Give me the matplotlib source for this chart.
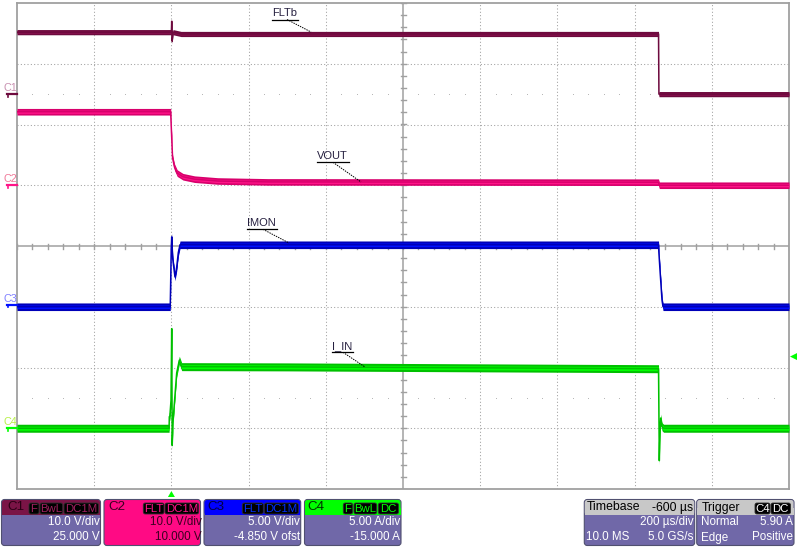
import numpy as np
import matplotlib.pyplot as plt
from matplotlib.patches import FancyBboxPatch, Rectangle, Polygon

plt.rcParams['font.family'] = ['Liberation Sans', 'DejaVu Sans']

W, H = 800, 547

# channel settings: volts (or amps) per div and offset
ch_names = ['C1', 'C2', 'C3', 'C4']
ch_scale = [10.0, 10.0, 5.0, 5.0]
ch_offset = [25.0, 10.0, -4.85, -15.0]

# time axis (us), 200 us/div, trigger at t = 0
t_min, t_max = -400, 1600

# C1 FLTb (V)
flt_t = [-400, 0, 0.8, 2, 4, 25, 1262, 1263, 1600]
flt_v = [10.2, 10.2, 12.0, 8.7, 10.2, 9.9, 9.9, 0.0, 0.0]

# C2 VOUT (V)
vout_t = [-400, -2, 3, 8, 15, 30, 60, 120, 250, 1262, 1264, 1600]
vout_v = [12.1, 12.1, 4.5, 3.0, 2.0, 1.4, 1.0, 0.7, 0.55, 0.5, 0.0, 0.0]

# C3 IMON (V)
imon_t = [-400, -3, -2, -0.5, 0.8, 3.4, 9.3, 13.7, 17.9, 22.3, 1262, 1263, 1265.8, 1268.4, 1271, 1273.6, 1600]
imon_v = [-0.15, -0.15, 1.6, 4.5, 5.6, 3.8, 2.3, 3.1, 4.3, 4.95, 4.95, 4.27, 2.87, 1.64, 0.4, -0.15, -0.15]

# C4 I_IN (A)
iin_t = [-400, -6, -5.4, -4, -1, 0.8, 2.1, 4, 7.5, 13.7, 20.5, 26.7, 300, 1262, 1264, 1265, 1267.6, 1271, 1275, 1600]
iin_v = [0.0, 0.0, 0.95, 1.0, 2.3, 8.2, -1.4, 0.5, 2.0, 4.55, 5.6, 5.07, 5.05, 4.9, -2.67, -1.2, 0.84, 0.13, 0.0, 0.0]

trig_level = 5.90  # A on C4

# colours: outer, inner, marker label
cols = {
    'C1': ('#6e0a3e', '#86104c', '#c890b0'),
    'C2': ('#d8006c', '#ff1488', '#f07898'),
    'C3': ('#0000b8', '#0010ff', '#8080ff'),
    'C4': ('#00c000', '#00ff00', '#b8f048'),
}
band_px = {'C1': (2.6, 1.2), 'C2': (3.3, 1.6), 'C3': (3.8, 1.8), 'C4': (4.0, 2.0)}

div_px = 60.75


def to_div(v, i):
    return (np.asarray(v) + ch_offset[i]) / ch_scale[i]


fig = plt.figure(figsize=(8, 5.47), dpi=100)
fig.patch.set_facecolor('white')
ax = fig.add_axes([17 / W, 1 - 489 / H, 772 / W, 486 / H])
ax.set_xlim(t_min, t_max)
ax.set_ylim(-4, 4)
ax.set_xticks([])
ax.set_yticks([])
for s in ax.spines.values():
    s.set_color('#a0a0a0')
    s.set_linewidth(1.3)

grid_c = '#a0a0a0'
for k in range(1, 10):
    t = t_min + 200 * k
    if t == 600:
        ax.axvline(t, color=grid_c, lw=1.1, zorder=1)
    else:
        ax.axvline(t, color=grid_c, lw=0.75, dashes=(1, 2.2), zorder=1)
for y in range(-3, 4):
    if y == 0:
        ax.axhline(0, color=grid_c, lw=1.1, zorder=1)
    else:
        ax.axhline(y, color=grid_c, lw=0.75, dashes=(1, 2.2), zorder=1)

# minor ticks on centre lines
tx = 2.5 / 77.2 * 200
ty = 2.5 / div_px
for t in np.arange(t_min, t_max + 1, 40):
    ax.plot([t, t], [-ty, ty], color=grid_c, lw=1.0, zorder=1)
for y in np.arange(-4, 4.01, 0.2):
    ax.plot([600 - tx, 600 + tx], [y, y], color=grid_c, lw=1.0, zorder=1)

# sparse dot rows
dot_t = [t for t in np.arange(t_min + 40, t_max, 40) if (t - t_min) % 200 != 0]
for y in (2.5, -2.5):
    ax.plot(dot_t, [y] * len(dot_t), ls='none', marker='s', ms=0.6, mew=0, color='#b0b0b0', zorder=1)

traces = [(flt_t, flt_v), (vout_t, vout_v), (imon_t, imon_v), (iin_t, iin_v)]
for i, (tt, vv) in enumerate(traces):
    name = ch_names[i]
    yd = to_div(vv, i)
    ho, hi = band_px[name]
    outer, inner, _ = cols[name]
    ax.fill_between(tt, yd - ho / div_px, yd + ho / div_px, color=outer, lw=0, zorder=3)
    ax.fill_between(tt, yd - hi / div_px, yd + hi / div_px, color=inner, lw=0, zorder=4)
    ax.plot(tt, yd, color=outer, lw=1.1, zorder=5)

# overlay in pixel coordinates
ov = fig.add_axes([0, 0, 1, 1])
ov.set_xlim(0, W)
ov.set_ylim(H, 0)
ov.axis('off')
ov.patch.set_alpha(0)

# trace labels with leader lines
labels = [
    ('FLTb', 272, 13, 298, 19.5, (287, 19.5), (311, 32)),
    ('VOUT', 317, 156, 349, 162.3, (333, 162.3), (361, 182)),
    ('IMON', 247, 223, 277, 229.3, (263, 229.3), (289, 243)),
    ('I_IN', 332, 346, 353, 352.3, (343, 352.3), (365, 367)),
]
for txt, x0, yc, x1, yu, p0, p1 in labels:
    ov.text(x0, yc, txt, fontsize=8, color='#262040', ha='left', va='center')
    ov.plot([x0, x1], [yu, yu], color='black', lw=0.9)
    ov.plot([p0[0], p1[0]], [p0[1], p1[1]], color='black', lw=0.7, dashes=(1.5, 1))

# channel ground markers on the left
marker_y = [246 - to_div(0, i) * div_px for i in range(4)]
for i, name in enumerate(ch_names):
    y = marker_y[i]
    outer, inner, lab = cols[name]
    mc = inner if name != 'C1' else outer
    ov.plot([7, 17], [y, y], color=mc, lw=1.6)
    ov.plot([7.5, 7.5], [y, y + 2.5], color=mc, lw=1.2)
    ov.text(3, y - 6, name, fontsize=7.8, color=lab, ha='left', va='center')

# trigger markers
ty_px = 246 - to_div(trig_level, 3) * div_px
ov.add_patch(Polygon([[790, ty_px], [797, ty_px - 3.5], [797, ty_px + 3.5]], closed=True, color='#00ff00', lw=0))
tx_px = 17 + (0 - t_min) / 200 * 77.2
ov.add_patch(Polygon([[tx_px - 3.5, 497], [tx_px + 3.5, 497], [tx_px, 491]], closed=True, color='#00ff00', lw=0))

# info panels
body_c = '#7068a8'
edge_c = '#505070'
fs_body = 8.4
fs_head = 9.6


def panel(x0, x1, head_c):
    ov.add_patch(FancyBboxPatch((x0, 499.5), x1 - x0, 46, boxstyle='round,pad=0,rounding_size=3',
                                fc=body_c, ec=edge_c, lw=0.8))
    ov.add_patch(FancyBboxPatch((x0 + 0.5, 500), x1 - x0 - 1, 15, boxstyle='round,pad=0,rounding_size=2.5',
                                fc=head_c, ec='none'))
    ov.add_patch(Rectangle((x0 + 0.5, 508), x1 - x0 - 1, 7, fc=head_c, ec='none'))


def badge(x0, x1, txt, tc):
    ov.add_patch(FancyBboxPatch((x0, 503), x1 - x0, 11, boxstyle='round,pad=0,rounding_size=2',
                                fc='black', ec='#303030', lw=0.6))
    ov.text((x0 + x1) / 2, 508.7, txt, fontsize=8.2, color=tc, ha='center', va='center')


panel(1.5, 100.5, '#7a1446')
ov.text(7, 507.5, 'C1', fontsize=fs_head, color='#2a0014', va='center')
badge(29, 39, 'F', '#a02060')
badge(40, 62.7, 'BwL', '#a02060')
badge(64, 98.5, 'DC1M', '#a02060')
ov.text(100, 522, '10.0 V/div', fontsize=fs_body, color='white', ha='right', va='center')
ov.text(100, 537.5, '25.000 V', fontsize=fs_body, color='white', ha='right', va='center')

ov.add_patch(FancyBboxPatch((104, 499.5), 96.5, 46, boxstyle='round,pad=0,rounding_size=3',
                            fc='#ff0a84', ec=edge_c, lw=0.8))
ov.text(108, 507.5, 'C2', fontsize=fs_head, color='#3a0020', va='center')
badge(143.3, 164, 'FLT', '#ff1488')
badge(165, 198.7, 'DC1M', '#ff1488')
ov.text(201.5, 522, '10.0 V/div', fontsize=fs_body, color='#3a0020', ha='right', va='center')
ov.text(201.5, 537.5, '10.000 V', fontsize=fs_body, color='#3a0020', ha='right', va='center')

panel(204, 300.7, '#0000ff')
ov.text(207, 507.5, 'C3', fontsize=fs_head, color='#000040', va='center')
badge(242.3, 263.3, 'FLT', '#0030ff')
badge(264.3, 298.3, 'DC1M', '#0030ff')
ov.text(300, 522, '5.00 V/div', fontsize=fs_body, color='white', ha='right', va='center')
ov.text(300, 537.5, '-4.850 V ofst', fontsize=fs_body, color='white', ha='right', va='center')

panel(304.5, 401, '#00ff00')
ov.text(307.5, 507.5, 'C4', fontsize=fs_head, color='#003000', va='center')
badge(343.3, 352.7, 'F', '#00ff00')
badge(354, 376.7, 'BwL', '#00ff00')
badge(378.3, 398.5, 'DC', '#00ff00')
ov.text(400, 522, '5.00 A/div', fontsize=fs_body, color='white', ha='right', va='center')
ov.text(400, 537.5, '-15.000 A', fontsize=fs_body, color='white', ha='right', va='center')

panel(584.3, 694.7, '#c8c8c8')
ov.text(586.5, 507.5, 'Timebase', fontsize=8.8, color='black', va='center')
ov.text(693.3, 507.5, '-600 µs', fontsize=8.8, color='black', ha='right', va='center')
ov.text(693.3, 522, '200 µs/div', fontsize=fs_body, color='white', ha='right', va='center')
ov.text(586.5, 537.5, '10.0 MS', fontsize=fs_body, color='white', va='center')
ov.text(693.3, 537.5, '5.0 GS/s', fontsize=fs_body, color='white', ha='right', va='center')

panel(696.7, 794, '#c8c8c8')
ov.text(701.5, 507.5, 'Trigger', fontsize=8.8, color='black', va='center')
badge(755, 770, 'C4', 'white')
badge(771, 790.5, 'DC', 'white')
ov.text(701.5, 522, 'Normal', fontsize=fs_body, color='white', va='center')
ov.text(792.7, 522, '5.90 A', fontsize=fs_body, color='white', ha='right', va='center')
ov.text(701.5, 537.5, 'Edge', fontsize=fs_body, color='white', va='center')
ov.text(792.7, 537.5, 'Positive', fontsize=fs_body, color='white', ha='right', va='center')

fig.savefig('out.png', dpi=100)
